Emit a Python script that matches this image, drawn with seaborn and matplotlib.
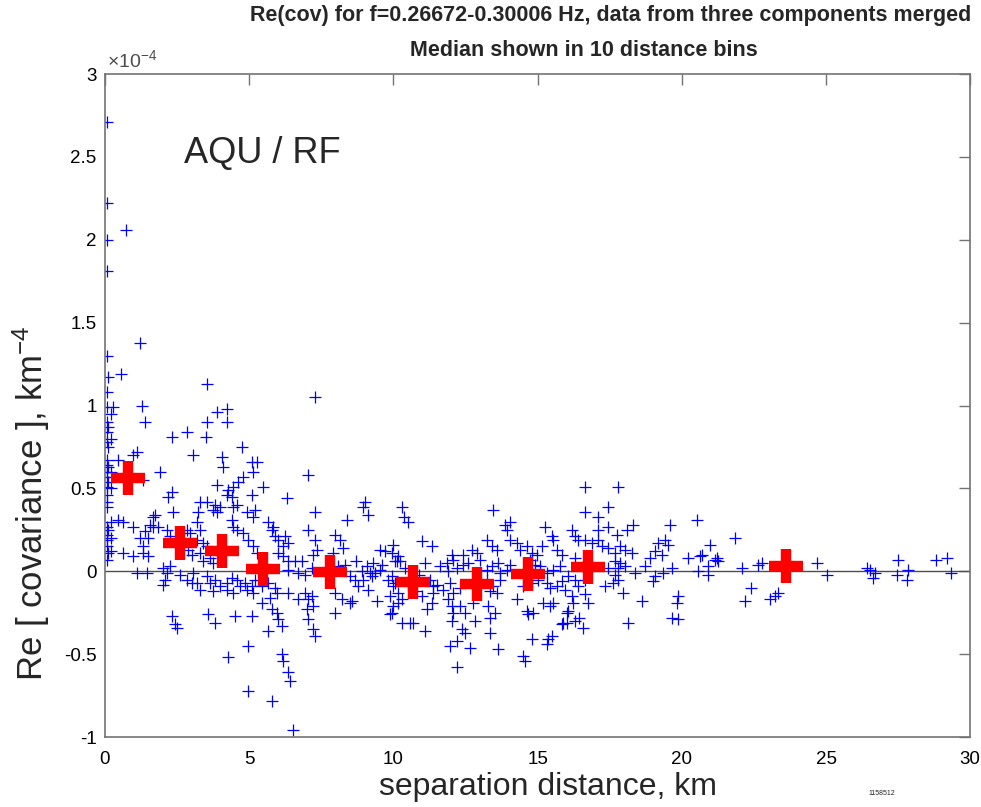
import numpy as np
import pandas as pd
import matplotlib
matplotlib.use("Agg")
import matplotlib.pyplot as plt
from matplotlib.ticker import FuncFormatter
import seaborn as sns

sns.set_theme(style="white")
plt.rcParams["font.family"] = ["Liberation Sans", "DejaVu Sans"]
plt.rcParams["mathtext.fontset"] = "custom"
plt.rcParams["mathtext.rm"] = "Liberation Sans"
plt.rcParams["mathtext.it"] = "Liberation Sans:italic"
plt.rcParams["mathtext.bf"] = "Liberation Sans:bold"

SCALE = 1e-4  # covariance values below are in units of 1e-4 km^-4

# --- individual pair covariances (distance km, Re cov x1e-4) ---
dist_a = [0.08, 0.08, 0.08, 0.08, 0.08, 0.12, 0.08, 0.07, 0.07, 0.10,
          0.07, 0.07, 0.10, 0.07, 0.07, 0.12, 0.07, 0.07, 0.10, 0.07,
          0.07, 0.07, 0.07, 0.07, 0.10, 0.07, 0.07, 0.07, 0.10, 0.07,
          0.20, 0.20, 0.20, 0.20, 0.20, 0.20, 0.20, 0.74, 1.20, 0.55]
cov_a = [2.71, 2.22, 2.00, 1.81, 1.30, 1.17, 1.08, 0.99, 0.90, 0.87,
         0.84, 0.78, 0.75, 0.67, 0.64, 0.63, 0.60, 0.57, 0.54, 0.51,
         0.46, 0.42, 0.39, 0.27, 0.25, 0.22, 0.19, 0.15, 0.11, 0.07,
         0.95, 0.80, 0.60, 0.50, 0.30, 0.20, 0.12, 2.06, 1.38, 1.19]

dist_b = [3.54, 0.28, 1.28, 3.88, 4.23, 1.39, 3.54, 4.23, 2.32, 2.84,
          3.50, 4.75, 0.97, 1.10, 3.05, 4.06, 4.09, 5.10, 5.13, 0.45,
          1.91, 1.32, 3.88, 4.27, 4.44, 4.61, 4.79, 4.23, 4.40, 5.10,
          2.32, 2.19, 3.30, 3.54, 3.82, 3.99, 3.23, 3.75, 3.88, 4.44,
          4.58, 2.36, 1.66, 1.73, 1.56, 1.66, 1.84, 0.45, 0.62, 0.97,
          4.93, 5.13, 4.40, 4.44, 4.58, 3.19, 3.30, 2.95, 1.39, 1.21,
          1.49, 1.32, 2.84, 2.15, 2.25, 3.19, 3.40, 3.54, 4.79, 4.96,
          5.13, 5.27, 0.62, 0.97, 1.32, 1.49, 2.88, 3.02, 3.30, 3.64,
          3.75, 3.40, 1.10, 1.46, 2.01, 2.15, 2.25, 2.08, 2.01, 2.60,
          2.84, 3.05, 3.19, 3.54, 3.64, 3.82, 3.99, 3.75, 4.23, 4.40,
          4.58, 4.68, 4.23, 4.44, 4.86, 4.93, 5.10, 5.13, 2.32, 2.43,
          2.50, 3.57, 3.82, 4.51, 5.10, 3.30, 3.02]
cov_b = [1.13, 0.99, 1.00, 0.96, 0.98, 0.90, 0.90, 0.90, 0.81, 0.84,
         0.81, 0.75, 0.70, 0.72, 0.70, 0.69, 0.63, 0.66, 0.60, 0.67,
         0.60, 0.55, 0.52, 0.49, 0.51, 0.54, 0.57, 0.46, 0.45, 0.46,
         0.48, 0.45, 0.42, 0.42, 0.40, 0.39, 0.36, 0.37, 0.36, 0.39,
         0.40, 0.36, 0.33, 0.34, 0.28, 0.27, 0.27, 0.31, 0.30, 0.27,
         0.36, 0.33, 0.31, 0.27, 0.25, 0.30, 0.25, 0.23, 0.24, 0.20,
         0.20, 0.15, 0.25, 0.25, 0.21, 0.19, 0.17, 0.15, 0.23, 0.19,
         0.15, 0.11, 0.11, 0.09, 0.11, 0.09, 0.13, 0.10, 0.11, 0.08,
         0.05, 0.06, -0.01, -0.01, 0.02, -0.01, 0.03, -0.05, -0.08, -0.02,
         -0.05, -0.01, -0.07, -0.03, -0.07, -0.05, -0.09, -0.12, -0.07, -0.04,
         -0.05, -0.09, -0.11, -0.13, -0.07, -0.11, -0.09, -0.13, -0.27, -0.32,
         -0.34, -0.26, -0.31, -0.27, -0.27, -0.11, -0.07]

dist_c = [7.28, 7.04, 5.48, 5.27, 6.31, 7.28, 8.39, 9.02, 8.95, 9.12,
          10.30, 10.37, 10.50, 5.20, 5.65, 5.79, 5.83, 5.90, 6.00, 6.24,
          6.17, 6.35, 7.04, 7.28, 7.35, 7.21, 7.98, 8.15, 8.26, 7.91,
          9.54, 9.99, 10.16, 10.06, 6.00, 6.17, 6.35, 6.59, 6.83, 6.35,
          6.69, 6.94, 7.18, 8.08, 8.32, 8.50, 8.67, 8.91, 9.09, 9.19,
          9.37, 9.54, 9.26, 8.95, 8.78, 9.12, 9.96, 10.13, 9.96, 10.06,
          10.16, 9.89, 9.99, 10.16, 10.30, 10.30, 10.58, 5.20, 5.45, 5.65,
          5.90, 5.97, 5.72, 5.45, 5.79, 5.97, 6.00, 6.14, 5.65, 6.35,
          6.69, 6.94, 7.04, 7.18, 7.21, 7.00, 7.98, 8.22, 8.50, 7.98,
          7.04, 7.21, 7.28, 6.14, 6.17, 6.35, 6.42, 5.79, 6.52, 4.96,
          4.27, 4.96, 8.57, 9.44, 9.96, 9.60, 9.30, 8.70, 9.80]
cov_c = [1.05, 0.58, 0.51, 0.66, 0.44, 0.36, 0.31, 0.42, 0.39, 0.34,
         0.39, 0.33, 0.30, 0.37, 0.30, 0.25, 0.27, 0.21, 0.19, 0.21,
         0.15, 0.17, 0.25, 0.19, 0.13, 0.10, 0.22, 0.19, 0.14, 0.11,
         0.13, 0.16, 0.09, 0.06, 0.11, 0.09, 0.06, 0.06, 0.06, 0.01,
         -0.01, -0.02, 0.02, 0.03, 0.04, -0.03, -0.05, 0.00, 0.03, -0.01,
         -0.01, 0.01, -0.03, -0.05, -0.09, -0.11, 0.11, 0.06, -0.03, -0.07,
         -0.13, -0.15, -0.21, -0.19, -0.17, -0.31, -0.31, -0.05, -0.09, -0.07,
         -0.10, -0.13, -0.16, -0.19, -0.23, -0.25, -0.29, -0.33, -0.36, -0.13,
         -0.17, -0.13, -0.17, -0.15, -0.21, -0.23, -0.13, -0.17, -0.19, -0.25,
         -0.29, -0.35, -0.39, -0.50, -0.54, -0.61, -0.66, -0.78, -0.96, -0.72,
         -0.52, -0.45, -0.18, -0.18, -0.25, 0.04, 0.05, 0.06, -0.05]

dist_d = [13.46, 13.87, 14.05, 13.94, 15.26, 15.50, 15.54, 11.00, 11.34, 13.25,
          13.42, 13.60, 14.05, 14.29, 14.39, 14.64, 14.81, 14.98, 15.16, 15.68,
          15.85, 12.04, 12.07, 12.42, 12.73, 12.90, 13.00, 11.62, 11.86, 11.90,
          12.21, 12.42, 12.59, 13.25, 13.42, 13.63, 13.70, 13.94, 14.05, 14.74,
          14.91, 15.09, 15.33, 15.54, 15.78, 11.27, 11.52, 11.72, 11.38, 11.97,
          12.07, 12.31, 13.25, 13.46, 13.35, 13.60, 13.70, 14.50, 14.81, 15.02,
          15.33, 15.44, 15.68, 15.85, 15.96, 11.34, 11.17, 11.90, 12.04, 12.07,
          12.31, 12.49, 12.76, 13.28, 13.53, 13.35, 14.29, 14.64, 14.67, 14.84,
          15.19, 15.44, 15.54, 10.68, 11.10, 12.04, 12.38, 12.49, 12.83, 13.35,
          13.63, 14.81, 15.37, 15.50, 15.89, 16.03, 11.97, 12.21, 12.66, 14.50,
          14.57, 12.21, 15.33, 18.14, 15.85, 16.58, 9.70, 10.40, 10.90, 10.23,
          10.00, 9.89, 11.38, 11.10, 10.80, 11.00, 10.50]
cov_d = [0.37, 0.28, 0.30, 0.25, 0.27, 0.21, 0.19, 0.18, 0.15, 0.19,
         0.15, 0.13, 0.19, 0.17, 0.13, 0.15, 0.11, 0.10, 0.15, 0.13,
         0.10, 0.10, 0.07, 0.10, 0.13, 0.11, 0.07, 0.03, 0.05, 0.00,
         0.02, 0.04, 0.05, 0.01, 0.03, 0.05, -0.01, 0.01, 0.04, 0.07,
         0.04, 0.03, -0.01, 0.01, 0.03, -0.05, -0.08, -0.11, -0.13, -0.07,
         -0.13, -0.10, -0.05, -0.09, -0.12, -0.13, -0.05, -0.09, -0.07, -0.05,
         -0.07, -0.10, -0.09, -0.06, -0.11, -0.19, -0.23, -0.17, -0.21, -0.25,
         -0.21, -0.25, -0.19, -0.21, -0.25, -0.28, -0.17, -0.24, -0.26, -0.25,
         -0.19, -0.21, -0.19, -0.31, -0.36, -0.30, -0.35, -0.37, -0.30, -0.37,
         -0.47, -0.41, -0.41, -0.39, -0.31, -0.25, -0.45, -0.42, -0.46, -0.51,
         -0.54, -0.58, -0.44, -0.31, -0.32, -0.34, 0.12, 0.02, -0.02, 0.06,
         -0.09, -0.26, -0.09, 0.05, -0.12, -0.15, -0.08]

dist_e = [16.65, 17.79, 16.65, 17.10, 17.45, 18.31, 18.10, 17.76, 17.45, 17.10,
          19.60, 20.53, 16.20, 16.30, 16.41, 16.65, 16.89, 17.10, 17.24, 17.45,
          17.69, 17.86, 18.03, 18.28, 19.18, 19.42, 19.53, 19.08, 18.90, 19.32,
          20.98, 20.71, 20.22, 21.23, 21.26, 16.30, 17.69, 17.86, 17.79, 18.03,
          17.45, 18.73, 19.67, 20.57, 20.92, 16.06, 16.30, 16.41, 16.65, 17.69,
          17.79, 18.38, 19.08, 19.01, 19.35, 20.92, 17.34, 17.62, 17.97, 16.20,
          16.65, 16.75, 16.24, 16.06, 16.30, 16.45, 16.03, 18.63, 19.87, 19.84,
          19.67, 19.87]
cov_e = [0.51, 0.51, 0.36, 0.33, 0.39, 0.28, 0.25, 0.22, 0.27, 0.25,
         0.28, 0.31, 0.25, 0.21, 0.19, 0.19, 0.17, 0.19, 0.15, 0.14,
         0.11, 0.15, 0.13, 0.11, 0.17, 0.19, 0.16, 0.12, 0.08, 0.10,
         0.16, 0.10, 0.08, 0.08, 0.06, 0.08, 0.06, 0.05, 0.02, 0.03,
         0.02, 0.03, 0.02, 0.00, 0.03, -0.03, -0.05, -0.09, -0.05, -0.02,
         -0.05, -0.01, -0.03, -0.06, -0.01, -0.02, -0.09, -0.07, -0.13, -0.15,
         -0.14, -0.19, -0.19, -0.24, -0.30, -0.28, -0.31, -0.18, -0.15, -0.19,
         -0.28, -0.29]

dist_f = [21.85, 20.64, 21.16, 22.10, 22.65, 22.79, 22.41, 22.20, 23.07, 23.24,
          23.34, 24.70, 25.04, 26.43, 26.53, 26.71, 26.64, 27.51, 27.47, 27.82,
          27.85, 28.82, 29.20, 29.34]
cov_f = [0.20, 0.09, 0.07, 0.02, 0.04, 0.05, -0.10, -0.18, -0.17, -0.15,
         -0.13, 0.05, -0.02, 0.02, 0.01, -0.01, -0.04, 0.07, -0.02, -0.05,
         0.01, 0.07, 0.08, -0.01]

# --- medians in 10 distance bins ---
median_dist = [0.8, 2.6, 4.06, 5.48, 7.8, 10.68, 12.9, 14.67, 16.75, 23.6]
median_cov = [0.56, 0.17, 0.12, 0.015, -0.006, -0.066, -0.078, -0.018, 0.026, 0.03]

title_lines = ["Re(cov) for f=0.26672-0.30006 Hz, data from three components merged",
               "Median shown in 10 distance bins"]
x_ticks = [0, 5, 10, 15, 20, 25, 30]
y_ticks = [-1, -0.5, 0, 0.5, 1, 1.5, 2, 2.5, 3]

pts = pd.DataFrame({
    "dist": np.concatenate([dist_a, dist_b, dist_c, dist_d, dist_e, dist_f]),
    "cov": np.concatenate([cov_a, cov_b, cov_c, cov_d, cov_e, cov_f]) * SCALE,
})
med = pd.DataFrame({"dist": median_dist, "cov": np.array(median_cov) * SCALE})

fig = plt.figure(figsize=(9.81, 8.07), dpi=100)
ax = fig.add_axes([0.107, 0.0867, 0.882, 0.8216])
ax.axhline(0, color="0.3", lw=1.0, zorder=1)
sns.scatterplot(data=pts, x="dist", y="cov", marker="+", color=(0, 0, 1),
                s=72, linewidth=0.9, ax=ax, zorder=2, legend=False)
sns.scatterplot(data=med, x="dist", y="cov", marker="+", color=(1, 0, 0),
                s=600, linewidth=7.5, ax=ax, zorder=3, legend=False)

ax.set_xlim(0, 30)
ax.set_ylim(-1 * SCALE, 3 * SCALE)
ax.set_xticks(x_ticks)
ax.set_yticks([v * SCALE for v in y_ticks])
ax.yaxis.set_major_formatter(FuncFormatter(lambda v, p: f"{v / SCALE:g}"))
ax.tick_params(direction="in", length=8, width=1, top=True, right=True,
               labelsize=13.5, color="0.45", labelcolor="black")
ax.tick_params(axis="x", pad=10)
ax.tick_params(axis="y", pad=6)
for sp in ax.spines.values():
    sp.set_color("0.45")
    sp.set_linewidth(1.2)
ax.grid(False)

ax.set_xlabel("separation distance, km", fontsize=23)
ax.set_ylabel("Re [ covariance ], km$^{-4}$", fontsize=25)
ax.xaxis.set_label_coords(0.512, -0.052)
ax.yaxis.set_label_coords(-0.061, 0.353)

ax.text(2.75, 2.52 * SCALE, "AQU / RF", fontsize=26, va="center", ha="left")

fig.text(0.622, 0.981, title_lines[0], ha="center", va="center",
         fontsize=15.5, fontweight="bold")
fig.text(0.595, 0.938, title_lines[1], ha="center", va="center",
         fontsize=15.5, fontweight="bold")
fig.text(0.109, 0.925, r"$\times10^{-4}$", ha="left", va="center",
         fontsize=14, color="0.3")
fig.text(0.899, 0.017, "1158512", ha="center", va="center", fontsize=5)

fig.savefig("out.png", dpi=100)
